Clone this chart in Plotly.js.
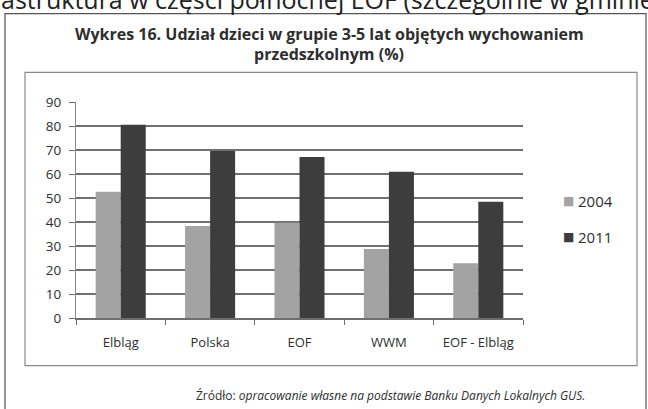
<!DOCTYPE html>
<html>
<head>
<meta charset="utf-8">
<script src="https://cdn.plot.ly/plotly-3.0.1.min.js"></script>
<style>
  html, body { margin: 0; padding: 0; background: #fff; }
  #chart { width: 648px; height: 409px; }
</style>
</head>
<body>
<div id="chart"></div>
<script>
// data
const categories = ['Elbląg', 'Polska', 'EOF', 'WWM', 'EOF - Elbląg'];
const values2004 = [52.6, 38.3, 39.7, 28.7, 22.8];
const values2011 = [80.5, 69.6, 67.1, 60.9, 48.4];
const yTicks = [0, 10, 20, 30, 40, 50, 60, 70, 80, 90];
const seriesNames = ['2004', '2011'];
const seriesColors = ['#a3a3a3', '#3d3d3d'];

// plot area in pixels
const W = 648, H = 409;
const plotL = 76, plotR = 523, plotT = 101.7, plotB = 318.3;

// pixel -> paper helpers for frames and text
const px = x => (x - plotL) / (plotR - plotL);
const py = y => (plotB - y) / (plotB - plotT);

const textColor = '#2e2e2e';
const font = '"Open Sans", Lato, sans-serif';

const traces = [
    {
        type: 'bar',
        name: seriesNames[0],
        x: categories,
        y: values2004,
        marker: { color: seriesColors[0] },
        showlegend: false,
        hoverinfo: 'skip'
    },
    {
        type: 'bar',
        name: seriesNames[1],
        x: categories,
        y: values2011,
        marker: { color: seriesColors[1] },
        showlegend: false,
        hoverinfo: 'skip'
    }
];

function frame(x0, y0, x1, y1, color) {
    return {
        type: 'rect', xref: 'paper', yref: 'paper',
        x0: px(x0), x1: px(x1), y0: py(y1), y1: py(y0),
        line: { color: color, width: 1.2 },
        fillcolor: 'rgba(0,0,0,0)',
        layer: 'below'
    };
}

function label(text, x, y, size, opts) {
    return Object.assign({
        text: text, xref: 'paper', yref: 'paper',
        x: px(x), y: py(y), xanchor: 'center', yanchor: 'middle',
        showarrow: false,
        font: { family: font, size: size, color: textColor }
    }, opts || {});
}

// Excel-like legend: small square + year
const legendItems = [];
seriesNames.forEach((name, i) => {
    const yy = 201 + i * 36;
    legendItems.push(label('■', 568, yy, 12, {
        font: { family: 'DejaVu Sans', size: 12, color: seriesColors[i] }
    }));
    legendItems.push(label(name, 576, yy, 15, { xanchor: 'left' }));
});

const layout = {
    width: W,
    height: H,
    margin: { l: plotL, r: W - plotR, t: plotT, b: H - plotB, pad: 0 },
    paper_bgcolor: '#ffffff',
    plot_bgcolor: '#ffffff',
    showlegend: false,
    bargap: 0.44,
    bargroupgap: 0,
    font: { family: font, color: textColor },
    xaxis: {
        type: 'category',
        showline: true,
        linecolor: '#6e6e6e',
        linewidth: 1.5,
        ticks: 'outside',
        tickson: 'boundaries',
        ticklen: 5,
        tickcolor: '#6e6e6e',
        ticklabelstandoff: 12,
        tickfont: { family: font, size: 13, color: textColor },
        showgrid: false,
        fixedrange: true
    },
    yaxis: {
        range: [0, 90],
        tickvals: yTicks,
        ticktext: yTicks.map(String),
        showline: true,
        linecolor: '#8a8a8a',
        linewidth: 1,
        ticks: 'outside',
        ticklen: 6,
        tickcolor: '#6e6e6e',
        ticklabelstandoff: 5,
        tickfont: { family: font, size: 13.5, color: textColor },
        showgrid: true,
        gridcolor: '#707070',
        gridwidth: 1.4,
        zeroline: false,
        fixedrange: true
    },
    shapes: [
        frame(5, 13, 646, 420, '#555555'),
        frame(25, 72, 637, 366, '#8a8a8a')
    ],
    annotations: [
        label('astruktura w części północnej EOF (szczególnie w gminie', -1, -2, 25,
              { xanchor: 'left', font: { family: font, size: 25, color: '#222' } }),
        label('<b>Wykres 16. Udział dzieci w grupie 3-5 lat objętych wychowaniem</b>', 329, 34, 16),
        label('<b>przedszkolnym (%)</b>', 329, 54, 16),
        label('Źródło: <i>opracowanie własne na podstawie Banku Danych Lokalnych GUS.</i>', 390, 396, 12)
    ].concat(legendItems)
};

Plotly.newPlot('chart', traces, layout, { staticPlot: true, displayModeBar: false });
</script>
</body>
</html>
